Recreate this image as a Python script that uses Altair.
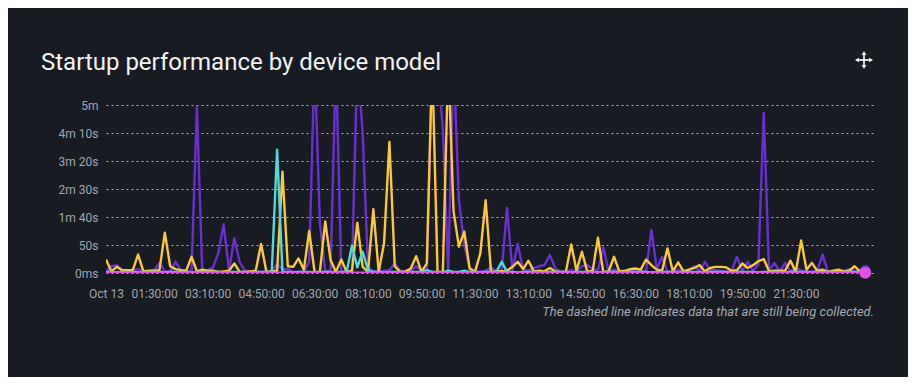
import json
import altair as alt
import pandas as pd

title_text = "Startup performance by device model"
footnote_text = "The dashed line indicates data that are still being collected."

# values in seconds, one point every 10 minutes starting Oct 13 00:00
purple = [3, 12, 14, 6, 4, 4, 7, 2, 3, 5,
          18, 3, 3, 20, 5, 3, 4, 297, 4, 5,
          10, 35, 87, 4, 62, 19, 4, 3, 2, 2,
          2, 3, 16, 7, 7, 2, 2, 3, 20, 380,
          90, 3, 4, 380, 2, 3, 3, 380, 250, 10,
          3, 3, 4, 5, 17, 4, 3, 4, 12, 4,
          5, 380, 380, 255, 2, 380, 130, 50, 10, 2,
          3, 4, 10, 3, 4, 116, 4, 52, 7, 4,
          9, 12, 14, 32, 9, 2, 3, 5, 3, 12,
          14, 7, 5, 46, 3, 6, 3, 5, 4, 2,
          3, 4, 77, 7, 29, 2, 3, 6, 3, 5,
          12, 4, 20, 5, 5, 4, 3, 4, 29, 4,
          20, 4, 15, 286, 4, 18, 3, 18, 3, 9,
          5, 2, 3, 4, 33, 3, 3, 3, 4, 7,
          2, 4, 5]

yellow = [24, 3, 11, 5, 5, 5, 33, 3, 4, 4,
          5, 72, 12, 7, 5, 4, 29, 3, 6, 4,
          4, 2, 3, 4, 17, 2, 2, 3, 4, 52,
          2, 3, 4, 181, 12, 11, 26, 6, 75, 2,
          2, 92, 23, 2, 24, 2, 4, 90, 11, 2,
          114, 2, 53, 234, 12, 2, 3, 8, 30, 2,
          17, 380, 2, 2, 380, 110, 47, 74, 8, 2,
          35, 130, 2, 3, 3, 4, 11, 20, 7, 22,
          3, 4, 3, 9, 3, 2, 2, 51, 4, 38,
          3, 3, 63, 2, 3, 29, 3, 3, 7, 8,
          6, 24, 14, 6, 4, 44, 3, 19, 3, 6,
          9, 14, 3, 9, 11, 11, 10, 4, 5, 17,
          9, 14, 21, 25, 3, 4, 4, 4, 22, 2,
          58, 6, 18, 4, 6, 2, 4, 6, 3, 4,
          12, 3, 2]

cyan = [2, 2, 1, 2, 2, 2, 1, 2, 2, 2,
        2, 1, 2, 2, 2, 2, 1, 2, 2, 2,
        2, 2, 1, 2, 2, 2, 2, 1, 2, 2,
        2, 2, 220, 2, 2, 1, 2, 2, 2, 1,
        2, 2, 2, 1, 2, 2, 49, 10, 38, 5,
        2, 2, 1, 2, 2, 2, 1, 2, 2, 2,
        5, 2, 2, 1, 4, 2, 2, 4, 2, 2,
        1, 2, 2, 2, 20, 2, 2, 1, 2, 2,
        2, 2, 1, 2, 2, 2, 2, 1, 2, 2,
        2, 2, 1, 2, 2, 2, 2, 1, 2, 2,
        2, 2, 1, 2, 2, 2, 2, 1, 2, 2,
        2, 2, 1, 2, 2, 2, 2, 1, 2, 2,
        2, 2, 1, 2, 2, 2, 2, 1, 2, 2,
        2, 2, 1, 2, 2, 2, 2, 1, 2, 2,
        2, 2, 2]

pink = [0.5, 0.4, 0.5, 0.6, 0.5, 0.4, 0.5, 0.5, 0.6, 0.5,
        0.4, 0.5, 0.5, 0.6, 0.5, 0.4, 0.5, 0.5, 0.6, 0.5,
        0.4, 0.5, 0.5, 0.6, 0.5, 0.4, 0.5, 0.5, 0.6, 0.5,
        0.4, 0.5, 0.5, 0.6, 0.5, 0.4, 0.5, 0.5, 0.6, 0.5,
        0.4, 0.5, 0.5, 0.6, 0.5, 0.4, 0.5, 0.5, 0.6, 0.5,
        0.4, 0.5, 0.5, 0.6, 0.5, 0.4, 0.5, 0.5, 0.6, 0.5,
        0.4, 0.5, 0.5, 0.6, 0.5, 0.4, 0.5, 0.5, 0.6, 0.5,
        0.4, 0.5, 0.5, 0.6, 0.5, 0.4, 0.5, 0.5, 0.6, 0.5,
        0.4, 0.5, 0.5, 0.6, 0.5, 0.4, 0.5, 0.5, 0.6, 0.5,
        0.4, 0.5, 0.5, 0.6, 0.5, 0.4, 0.5, 0.5, 0.6, 0.5,
        0.4, 0.5, 0.5, 0.6, 0.5, 0.4, 0.5, 0.5, 0.6, 0.5,
        0.4, 0.5, 0.5, 0.6, 0.5, 0.4, 0.5, 0.5, 0.6, 0.5,
        0.4, 0.5, 0.5, 0.6, 0.5, 0.4, 0.5, 0.5, 0.6, 0.5,
        0.4, 0.5, 0.5, 0.6, 0.5, 0.4, 0.5, 0.5, 0.6, 0.5,
        0.4, 0.5, 0.5]

series_values = [purple, yellow, cyan, pink]
series_colors = ["#6a2fd0", "#fbc83a", "#4fd8df", "#e14fe6"]

y_tick_values = [0, 50, 100, 150, 200, 250, 300]
y_tick_labels = ["0ms", "50s", "1m 40s", "2m 30s", "3m 20s", "4m 10s", "5m"]
x_tick_values = [0, 90, 190, 290, 390, 490, 590, 690, 790, 890, 990, 1090, 1190, 1290]
x_tick_labels = ["Oct 13", "01:30:00", "03:10:00", "04:50:00", "06:30:00", "08:10:00",
                 "09:50:00", "11:30:00", "13:10:00", "14:50:00", "16:30:00",
                 "18:10:00", "19:50:00", "21:30:00"]

STEP = 10
W, H = 770, 168

x_enc = alt.X(
    "minute:Q",
    title=None,
    scale=alt.Scale(domain=[0, 1440], nice=False, zero=False),
    axis=alt.Axis(
        values=x_tick_values,
        labelExpr=f"{json.dumps(x_tick_labels)}[indexof({json.dumps(x_tick_values)}, datum.value)]",
        grid=False, domain=False, ticks=False, labelAngle=0,
        labelPadding=15, labelFlush=False, labelOverlap=False,
    ),
)
y_enc = alt.Y(
    "value:Q",
    title=None,
    scale=alt.Scale(domain=[0, 300], nice=False),
    axis=alt.Axis(
        values=y_tick_values,
        labelExpr=f"{json.dumps(y_tick_labels)}[indexof({json.dumps(y_tick_values)}, datum.value)]",
        grid=True, gridDash=[2, 3], gridColor="#c9ccd2", gridOpacity=0.85, gridWidth=1,
        domain=False, ticks=False, labelPadding=8,
    ),
)

layers = []
for vals, col in zip(series_values, series_colors):
    n = len(vals)
    df = pd.DataFrame({"minute": [i * STEP for i in range(n)], "value": vals})
    solid = df.iloc[: n - 1]
    tail = df.iloc[n - 2:]
    layers.append(alt.Chart(solid).mark_line(color=col, strokeWidth=2.4, clip=True,
                                             strokeJoin="round").encode(x=x_enc, y=y_enc))
    layers.append(alt.Chart(tail).mark_line(color=col, strokeWidth=2.4, clip=True,
                                            strokeDash=[3, 2]).encode(x=x_enc, y=y_enc))

# end markers (latest point) for purple and pink
for vals, col, sz in [(purple, series_colors[0], 110), (pink, series_colors[3], 140)]:
    n = len(vals)
    df = pd.DataFrame({"minute": [(n - 1) * STEP], "value": [vals[-1]]})
    layers.append(alt.Chart(df).mark_point(filled=True, opacity=1, color=col, size=sz)
                  .encode(x=x_enc, y=y_enc))

one = alt.Data(values=[{}])
title = alt.Chart(one).mark_text(
    text=title_text, font="Roboto", fontSize=24, color="#f2f3f5",
    align="left", baseline="alphabetic",
).encode(x=alt.value(-65), y=alt.value(-35))

footnote = alt.Chart(one).mark_text(
    text=footnote_text, font="Roboto", fontSize=13, fontStyle="italic",
    color="#a3a9b3", align="right", baseline="middle",
).encode(x=alt.value(768), y=alt.value(207))

# move icon
ic_x, ic_y = 758, -45
icon = [
    alt.Chart(one).mark_rule(color="white", strokeWidth=1.6).encode(
        x=alt.value(ic_x - 6), x2=alt.value(ic_x + 6), y=alt.value(ic_y)),
    alt.Chart(one).mark_rule(color="white", strokeWidth=1.6).encode(
        x=alt.value(ic_x), y=alt.value(ic_y - 6), y2=alt.value(ic_y + 6)),
]
for shp, dx, dy in [("triangle-left", -7, 0), ("triangle-right", 7, 0),
                    ("triangle-up", 0, -7), ("triangle-down", 0, 7)]:
    icon.append(alt.Chart(one).mark_point(shape=shp, filled=True, opacity=1,
                                          color="white", size=22)
                .encode(x=alt.value(ic_x + dx), y=alt.value(ic_y + dy)))

chart = alt.layer(*layers, title, footnote, *icon).properties(
    width=W, height=H,
    autosize=alt.AutoSizeParams(type="none"),
    padding={"left": 98, "top": 97, "right": 32, "bottom": 104},
    background="#181b22",
).configure_view(stroke=None).configure_axis(
    labelFont="Roboto", labelFontSize=12, labelColor="#a0a6b0",
)

chart.save("out.html", embed_options={"renderer": "svg", "actions": False})
